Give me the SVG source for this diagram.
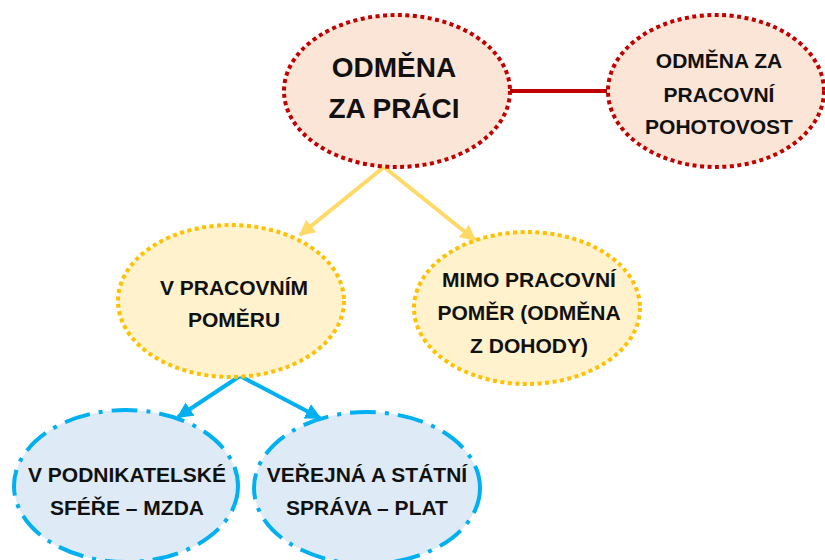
<svg xmlns="http://www.w3.org/2000/svg" width="825" height="560" viewBox="0 0 825 560">
<style>
text{font-family:"Liberation Sans",Arial,sans-serif;font-weight:bold;fill:#111;text-anchor:middle}
.red{fill:#FBE5D6;stroke:#C00000;stroke-width:4;stroke-dasharray:4 3.5}
.yel{fill:#FFF2CC;stroke:#FFC000;stroke-width:4;stroke-dasharray:4 3.5}
.blu{fill:#DEEBF7;stroke:#00B0F0;stroke-width:4;stroke-dasharray:26 9 4 9}
.t1{font-size:28px}
.t2{font-size:21px}
</style>
<defs>
<marker id="ay" viewBox="0 0 10 10" refX="9" refY="5" markerWidth="4" markerHeight="4" orient="auto" markerUnits="strokeWidth"><path d="M0,0 L10,5 L0,10 z" fill="#FFD966"/></marker>
<marker id="ab" viewBox="0 0 10 10" refX="9" refY="5" markerWidth="4" markerHeight="4" orient="auto" markerUnits="strokeWidth"><path d="M0,0 L10,5 L0,10 z" fill="#00B0F0"/></marker>
</defs>
<g id="connectors">
<line x1="510" y1="91" x2="607" y2="91" stroke="#C00000" stroke-width="4"/>
<line x1="384" y1="167" x2="300" y2="235" stroke="#FFD966" stroke-width="4" marker-end="url(#ay)"/>
<line x1="384" y1="167" x2="475" y2="240" stroke="#FFD966" stroke-width="4" marker-end="url(#ay)"/>
<line x1="240" y1="376" x2="178" y2="417" stroke="#00B0F0" stroke-width="4" marker-end="url(#ab)"/>
<line x1="240" y1="376" x2="320" y2="418" stroke="#00B0F0" stroke-width="4" marker-end="url(#ab)"/>
</g>
<g id="odmena-za-praci">
<ellipse class="red" cx="397" cy="91" rx="113" ry="76"/>
<text class="t1" x="394" y="77">ODMĚNA</text>
<text class="t1" x="394" y="118">ZA PRÁCI</text>
</g>
<g id="pohotovost">
<ellipse class="red" cx="716" cy="91" rx="108" ry="76"/>
<text class="t2" x="719" y="68">ODMĚNA ZA</text>
<text class="t2" x="719" y="102">PRACOVNÍ</text>
<text class="t2" x="719" y="134">POHOTOVOST</text>
</g>
<g id="v-pracovnim-pomeru">
<ellipse class="yel" cx="231" cy="301" rx="113" ry="76"/>
<text class="t2" x="234" y="295">V PRACOVNÍM</text>
<text class="t2" x="234" y="327">POMĚRU</text>
</g>
<g id="mimo-pracovni-pomer">
<ellipse class="yel" cx="527" cy="308" rx="113" ry="76"/>
<text class="t2" x="529" y="287">MIMO PRACOVNÍ</text>
<text class="t2" x="529" y="320">POMĚR (ODMĚNA</text>
<text class="t2" x="529" y="353">Z DOHODY)</text>
</g>
<g id="podnikatelska-sfera">
<ellipse class="blu" cx="126" cy="486" rx="112" ry="76"/>
<text class="t2" x="127" y="482">V PODNIKATELSKÉ</text>
<text class="t2" x="127" y="515">SFÉŘE – MZDA</text>
</g>
<g id="verejna-sprava">
<ellipse class="blu" cx="367" cy="488" rx="113" ry="76"/>
<text class="t2" x="367" y="482">VEŘEJNÁ A STÁTNÍ</text>
<text class="t2" x="367" y="515">SPRÁVA – PLAT</text>
</g>
</svg>
